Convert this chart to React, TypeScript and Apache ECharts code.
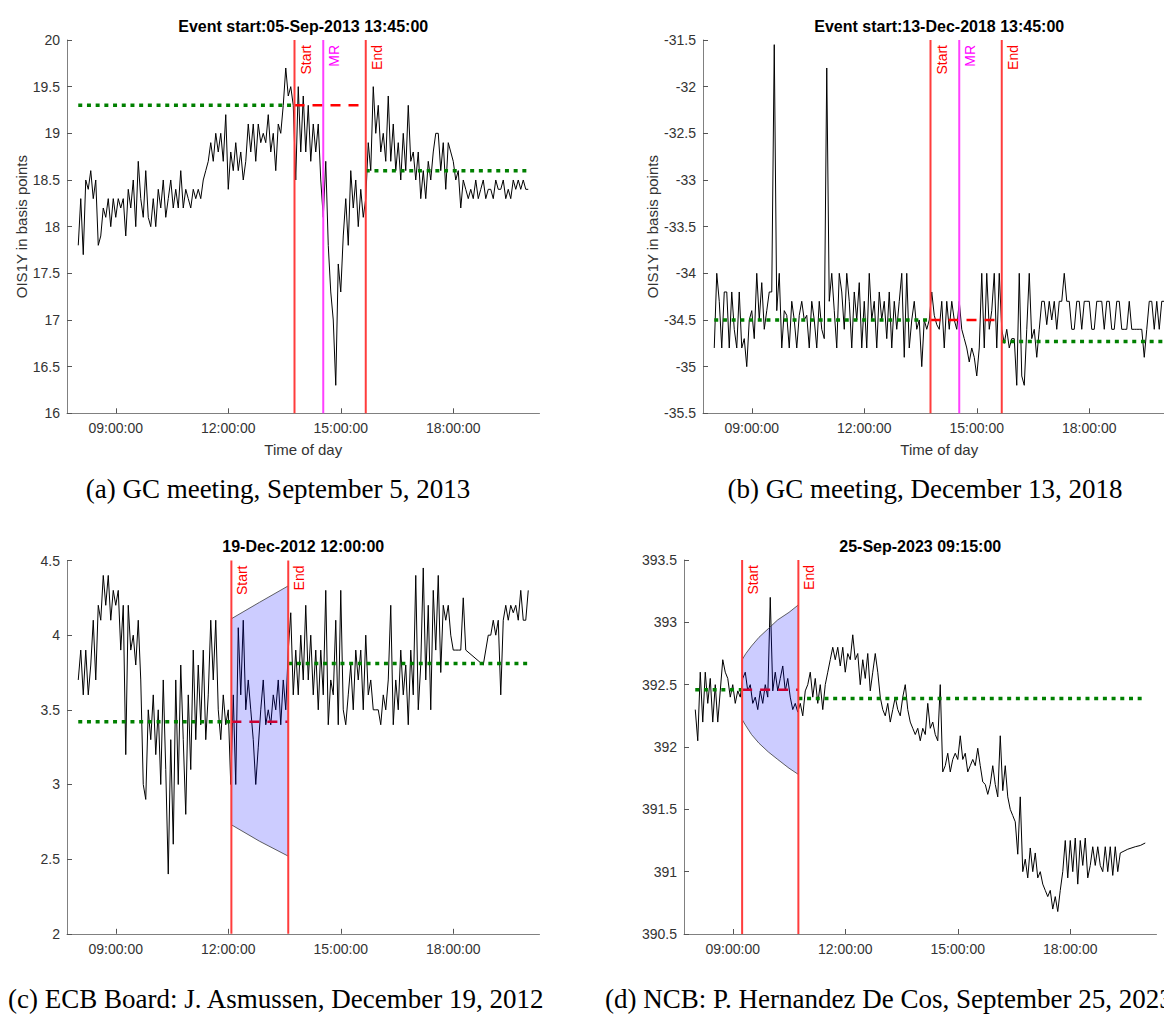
import React, { useEffect, useRef } from "react";
import * as echarts from "echarts";

// time grid: 08:00 .. 20:00, 4-minute steps (minutes since midnight)
const START_MIN = 480;
const STEP_MIN = 4;
const DATA_START = 480;
const DATA_END = 1200;
const X_MIN = 462;
const X_MAX = 1218;
const tickMinutes = [540, 720, 900, 1080];

// (a) GC meeting 05-Sep-2013
const valuesA = [
  17.8, 18.3, 17.7, 18.5, 18.4, 18.6, 18.3, 18.5, 17.8, 17.9, 18.2, 18.1, 18.3, 18.0, 18.3,
  18.1, 18.3, 18.2, 18.3, 17.9, 18.4, 18.2, 18.5, 18.0, 18.7, 18.3, 18.1, 18.6, 18.1, 18.0,
  18.3, 18.0, 18.4, 18.2, 18.5, 18.1, 18.3, 18.5, 18.2, 18.4, 18.2, 18.6, 18.2, 18.4, 18.3,
  18.2, 18.4, 18.3, 18.4, 18.3, 18.5, 18.6, 18.7, 18.9, 18.7, 19.0, 18.8, 19.0, 18.7, 19.2,
  18.4, 18.8, 18.6, 18.9, 18.6, 18.8, 18.5, 18.7, 19.1, 18.8, 19.1, 18.7, 19.1, 18.9, 19.0,
  18.9, 19.2, 18.8, 19.0, 18.6, 19.1, 19.0, 19.3, 19.7, 19.4, 19.5, 19.3, 18.5, 19.5, 18.8,
  19.4, 18.8, 19.3, 18.7, 19.1, 18.8, 19.1, 18.5, 18.1, 18.7, 17.8, 17.3, 17.0, 16.3, 17.6,
  17.3, 17.9, 18.3, 17.8, 18.6, 18.2, 18.5, 18.0, 18.4, 18.1, 18.3, 18.9, 18.6, 19.5, 19.0,
  19.3, 18.8, 19.0, 18.7, 19.4, 18.7, 19.1, 18.6, 18.9, 18.5, 19.0, 18.6, 19.3, 18.7, 18.8,
  18.5, 18.8, 18.3, 18.6, 18.3, 18.7, 18.5, 18.8, 19.0, 19.0, 18.6, 18.9, 18.4, 18.9, 18.8,
  18.7, 18.5, 18.6, 18.2, 18.5, 18.4, 18.3, 18.4, 18.3, 18.5, 18.3, 18.4, 18.5, 18.3, 18.4,
  18.4, 18.3, 18.5, 18.4, 18.4, 18.5, 18.3, 18.4, 18.3, 18.5, 18.4, 18.5, 18.4, 18.5, 18.4,
  18.4,
];

// (b) GC meeting 13-Dec-2018
const valuesB = [
  -34.8, -34.0, -34.3, -34.8, -34.2, -34.2, -34.8, -34.2, -34.6, -34.8, -34.2, -34.8, -34.7, -35.0, -34.5,
  -34.4, -34.7, -34.0, -34.5, -34.1, -34.6, -34.4, -34.2, -34.2, -31.55, -34.4, -34.0, -34.8, -34.4, -34.45,
  -34.8, -34.3, -34.5, -34.8, -34.45, -34.3, -34.5, -34.45, -34.8, -34.3, -34.5, -34.8, -34.3, -34.6, -34.7,
  -31.8, -34.3, -34.0, -34.4, -34.8, -34.0, -34.2, -34.6, -34.0, -34.3, -34.8, -34.2, -34.5, -34.1, -34.8,
  -34.3, -34.8, -34.0, -34.5, -34.3, -34.8, -34.2, -34.5, -34.3, -34.7, -34.2, -34.8, -34.3, -34.6, -34.3,
  -34.0, -34.9, -34.0, -34.8, -34.5, -34.3, -34.6, -34.5, -35.0, -34.5, -34.6, -34.5, -34.2, -34.45, -34.55,
  -34.6, -34.3, -34.8, -34.3, -34.6, -34.3, -34.5, -34.6, -34.3, -34.6, -34.7, -34.8, -34.95, -34.8, -34.9,
  -35.1, -34.8, -34.0, -34.8, -34.0, -34.6, -34.4, -34.0, -34.8, -34.0, -34.6, -34.75, -34.6, -34.8, -34.7,
  -34.7, -35.2, -34.0, -35.1, -35.2, -34.6, -34.0, -34.7, -34.6, -34.9, -34.6, -34.3, -34.3, -34.55, -34.3,
  -34.5, -34.3, -34.6, -34.3, -34.3, -34.0, -34.3, -34.3, -34.6, -34.6, -34.3, -34.3, -34.6, -34.3, -34.3,
  -34.3, -34.6, -34.6, -34.3, -34.3, -34.3, -34.6, -34.3, -34.3, -34.6, -34.6, -34.3, -34.3, -34.6, -34.6,
  -34.6, -34.3, -34.6, -34.6, -34.6, -34.6, -34.6, -34.9, -34.6, -34.3, -34.3, -34.6, -34.3, -34.6, -34.3,
  -34.3,
];

// (c) ECB Board: J. Asmussen 19-Dec-2012
const valuesC = [
  3.7, 3.9, 3.6, 3.9, 3.6, 3.8, 4.1, 3.7, 4.2, 4.1, 4.4, 4.2, 4.4, 4.1, 4.3,
  4.2, 4.3, 3.9, 4.2, 3.2, 4.2, 3.9, 4.0, 3.8, 4.1, 3.7, 3.0, 2.9, 3.5, 3.3,
  3.6, 3.2, 3.5, 3.0, 3.7, 3.1, 2.4, 3.3, 2.6, 3.7, 3.0, 3.8, 3.3, 2.8, 3.6,
  3.1, 3.9, 3.3, 3.8, 3.4, 3.9, 3.3, 3.6, 4.1, 3.7, 4.1, 3.5, 3.3, 3.6, 3.4,
  3.5, 3.0, 3.6, 3.0, 4.05, 3.6, 4.1, 3.5, 3.7, 3.5, 3.3, 3.0, 3.25, 3.5, 3.7,
  3.4, 3.5, 3.4, 3.6, 3.5, 3.7, 3.4, 3.7, 3.5, 3.9, 4.15, 3.6, 3.9, 3.6, 4.0,
  3.7, 4.2, 3.7, 4.0, 3.6, 3.9, 3.5, 3.9, 3.6, 4.3, 3.4, 3.7, 3.6, 4.1, 3.4,
  4.3, 3.5, 3.4, 3.6, 3.8, 3.5, 3.9, 3.7, 3.9, 3.5, 4.0, 3.6, 3.7, 3.5, 3.5,
  3.5, 3.4, 3.6, 3.5, 3.7, 4.2, 3.4, 3.7, 3.5, 3.9, 3.6, 3.8, 3.4, 3.9, 3.6,
  4.4, 3.5, 3.8, 4.45, 3.7, 4.2, 3.5, 4.3, 3.9, 4.4, 3.75, 4.2, 4.1, 4.2, 4.0,
  3.9, 3.9, 3.9, 3.9, 4.25, 3.9, null, null, null, null, null, null, 3.8, null, 4.0,
  4.0, 4.1, 4.0, 4.1, 3.6, 4.1, 4.2, 4.1, 4.2, 4.15, 4.2, 4.1, 4.3, 4.1, 4.1,
  4.3,
];

// (d) NCB: P. Hernandez De Cos 25-Sep-2023
const valuesD = [
  392.3, 392.05, 392.6, 392.2, 392.6, 392.35, 392.55, 392.2, 392.5, 392.2, 392.45, 392.7, 392.6, 392.55, 392.4,
  392.5, 392.35, 392.45, 392.4, 392.55, 392.6, 392.45, 392.5, 392.35, 392.4, 392.3, 392.45, 392.35, 392.5, 392.4,
  393.2, 392.45, 392.6, 392.45, 392.55, 392.65, 392.45, 392.55, 392.4, 392.3, 392.35, 392.28, 392.35, 392.25, 392.45,
  392.5, 392.6, 392.4, 392.55, 392.35, 392.5, 392.3, 392.5, 392.6, 392.7, 392.8, 392.7, 392.8, 392.65, 392.8,
  392.6, 392.75, 392.7, 392.9, 392.7, 392.75, 392.5, 392.7, 392.55, 392.75, 392.45, 392.6, 392.75, 392.6, 392.4,
  392.3, 392.25, 392.35, 392.2, 392.3, 392.4, 392.3, 392.25, 392.4, 392.5, 392.3, 392.2, 392.15, 392.1, 392.15,
  392.05, 392.15, 392.1, 392.35, 392.15, 392.2, 392.1, 392.05, 392.5, 391.8, 391.85, 391.95, 391.8, 391.9, 391.95,
  391.9, 392.09, 391.9, 391.95, 391.8, 391.85, 391.9, 391.85, 391.99, 391.85, 391.72, 391.7, 391.62, 391.7, 391.85,
  391.7, 391.6, 392.09, 391.65, 391.85, 391.6, 391.5, 391.45, 391.4, 391.14, 391.6, 391.0, 391.1, 390.95, 391.19,
  391.0, 391.15, 390.95, 391.0, 390.9, 390.85, 390.8, 390.85, 390.7, 390.8, 390.68, 390.85, 391.0, 391.25, 390.95,
  391.25, 391.0, 391.27, 390.9, 391.25, 391.05, 391.27, 390.95, 391.05, 391.2, 391.05, 391.2, 391.05, 391.0, 391.2,
  391.0, 391.2, 390.97, 391.2, 391.0, 391.15, null, null, 391.18, null, null, 391.2, null, 391.21, null,
  391.23,
];

// event times (minutes since midnight)
const eventsA = { start: 826, mr: 872, end: 940 };
const eventsB = { start: 826, mr: 872, end: 940 };
const eventsC = { start: 725, end: 816 };
const eventsD = { start: 555, end: 645 };

// mean levels: [before event, after event]
const levelsA = [19.3, 18.6];
const levelsB = [-34.5, -34.73];
const levelsC = [3.42, 3.81];
const levelsD = [392.46, 392.39];

// confidence bands
const bandCTime = [725, 770, 816];
const bandCUpper = [4.11, 4.22, 4.33];
const bandCLower = [2.73, 2.62, 2.52];
const bandDTime = [555, 561, 570, 582, 597, 612, 630, 645];
const bandDUpper = [392.7, 392.75, 392.81, 392.88, 392.95, 393.02, 393.08, 393.14];
const bandDLower = [392.22, 392.17, 392.1, 392.03, 391.96, 391.9, 391.83, 391.78];

const panelTitles = [
  "Event start:05-Sep-2013 13:45:00",
  "Event start:13-Dec-2018 13:45:00",
  "19-Dec-2012 12:00:00",
  "25-Sep-2023 09:15:00",
];
const captions = [
  "(a) GC meeting, September 5, 2013",
  "(b) GC meeting, December 13, 2018",
  "(c) ECB Board: J. Asmussen, December 19, 2012",
  "(d) NCB: P. Hernandez De Cos, September 25, 2023",
];

const SANS = "Liberation Sans";
const SERIF = "Liberation Serif";
const RED_LINE = "#ff3c3c";
const MAG_LINE = "#ff40ff";

const pad = (n: number) => String(n).padStart(2, "0");
const fmtTime = (v: number) => `${pad(Math.floor(v / 60))}:${pad(Math.round(v % 60))}:00`;

type Panel = {
  grid: any;
  yMin: number;
  yMax: number;
  values: (number | null)[];
  ev: { start: number; mr?: number; end: number };
  levels: number[];
  band: null | { t: number[]; u: number[]; l: number[] };
  names: boolean;
};

const panels: Panel[] = [
  { grid: { left: 67, top: 40, width: 472.5, height: 373.3 }, yMin: 16, yMax: 20, values: valuesA, ev: eventsA, levels: levelsA, band: null, names: true },
  { grid: { left: 703, top: 40, width: 472.5, height: 373.3 }, yMin: -35.5, yMax: -31.5, values: valuesB, ev: eventsB, levels: levelsB, band: null, names: true },
  { grid: { left: 67, top: 560.5, width: 472.5, height: 373.3 }, yMin: 2, yMax: 4.5, values: valuesC, ev: eventsC, levels: levelsC, band: { t: bandCTime, u: bandCUpper, l: bandCLower }, names: false },
  { grid: { left: 684, top: 560, width: 472.5, height: 374 }, yMin: 390.5, yMax: 393.5, values: valuesD, ev: eventsD, levels: levelsD, band: { t: bandDTime, u: bandDUpper, l: bandDLower }, names: false },
];

function buildOption() {
  const grids: any[] = [];
  const xAxes: any[] = [];
  const yAxes: any[] = [];
  const series: any[] = [];
  const titles: any[] = [];

  panels.forEach((p, k) => {
    grids.push({ ...p.grid, containLabel: false });
    xAxes.push({
      type: "value",
      gridIndex: k,
      min: X_MIN,
      max: X_MAX,
      axisLine: { show: true, onZero: false, lineStyle: { color: "#808080", width: 1 } },
      axisTick: { show: true, inside: true, length: 5, customValues: tickMinutes, lineStyle: { color: "#555", width: 1 } },
      axisLabel: { show: true, customValues: tickMinutes, formatter: fmtTime, color: "#333", fontSize: 14, fontFamily: SANS, margin: 8 },
      splitLine: { show: false },
      name: p.names ? "Time of day" : "",
      nameLocation: "middle",
      nameGap: 29,
      nameTextStyle: { color: "#333", fontSize: 15, fontFamily: SANS },
    });
    yAxes.push({
      type: "value",
      gridIndex: k,
      min: p.yMin,
      max: p.yMax,
      interval: 0.5,
      axisLine: { show: true, onZero: false, lineStyle: { color: "#808080", width: 1 } },
      axisTick: { show: true, inside: true, length: 5, lineStyle: { color: "#555", width: 1 } },
      axisLabel: { show: true, color: "#333", fontSize: 14, fontFamily: SANS, margin: 7 },
      splitLine: { show: false },
      name: p.names ? "OIS1Y in basis points" : "",
      nameLocation: "middle",
      nameGap: 38,
      nameTextStyle: { color: "#333", fontSize: 15, fontFamily: SANS },
    });

    const base = { xAxisIndex: k, yAxisIndex: k, silent: true, animation: false };

    // price series
    series.push({
      ...base,
      type: "line",
      data: p.values.map((v, i) => [START_MIN + i * STEP_MIN, v]),
      showSymbol: false,
      symbol: "none",
      connectNulls: true,
      lineStyle: { color: "#000", width: 1 },
      z: 2,
    });
    // pre-event mean (green dotted)
    series.push({
      ...base,
      type: "line",
      data: [[DATA_START, p.levels[0]], [p.ev.start, p.levels[0]]],
      showSymbol: false,
      symbol: "none",
      lineStyle: { color: "#008000", width: 3.5, type: [4, 4.7], cap: "butt" },
      z: 3,
    });
    // event window (red dashed)
    series.push({
      ...base,
      type: "line",
      data: [[p.ev.start, p.levels[0]], [p.ev.end, p.levels[0]]],
      showSymbol: false,
      symbol: "none",
      lineStyle: { color: "#ff0000", width: 2.5, type: [10, 8], cap: "butt" },
      z: 3,
    });
    // post-event mean (green dotted)
    series.push({
      ...base,
      type: "line",
      data: [[p.ev.end, p.levels[1]], [DATA_END, p.levels[1]]],
      showSymbol: false,
      symbol: "none",
      lineStyle: { color: "#008000", width: 3.5, type: [4, 4.7], cap: "butt" },
      z: 3,
    });
    // band
    if (p.band) {
      const b = p.band;
      series.push({
        ...base,
        type: "custom",
        data: [[b.t[0], b.u[0]]],
        z: 4,
        renderItem: (_params: any, api: any) => {
          const pts: number[][] = [];
          b.t.forEach((t, i) => pts.push(api.coord([t, b.u[i]])));
          for (let i = b.t.length - 1; i >= 0; i--) pts.push(api.coord([b.t[i], b.l[i]]));
          return {
            type: "polygon",
            shape: { points: pts },
            style: { fill: "rgba(0,0,255,0.2)", stroke: "#3a3a3a", lineWidth: 0.8 },
          };
        },
      });
    }
    // vertical event lines
    const vlines: { t: number; color: string; text: string; tcolor: string }[] = [
      { t: p.ev.start, color: RED_LINE, text: "Start", tcolor: "#ff0000" },
    ];
    if (p.ev.mr !== undefined) vlines.push({ t: p.ev.mr, color: MAG_LINE, text: "MR", tcolor: "#ff00ff" });
    vlines.push({ t: p.ev.end, color: RED_LINE, text: "End", tcolor: "#ff0000" });
    vlines.forEach((v) => {
      series.push({
        ...base,
        type: "line",
        data: [[v.t, p.yMin], [v.t, p.yMax]],
        showSymbol: false,
        symbol: "none",
        lineStyle: { color: v.color, width: 2 },
        z: 5,
      });
    });
    series.push({
      ...base,
      type: "custom",
      data: vlines.map((v) => [v.t, p.yMax]),
      z: 6,
      renderItem: (params: any, api: any) => {
        const v = vlines[params.dataIndex];
        const pt = api.coord([v.t, p.yMax]);
        return {
          type: "text",
          x: pt[0] + 4,
          y: pt[1] + 5,
          rotation: Math.PI / 2,
          style: {
            text: v.text,
            fill: v.tcolor,
            fontSize: 14,
            fontFamily: SANS,
            align: "right",
            verticalAlign: "top",
          },
        };
      },
    });

    titles.push({
      text: panelTitles[k],
      left: p.grid.left + p.grid.width / 2,
      top: p.grid.top - 22,
      textAlign: "center",
      padding: 0,
      textStyle: { fontSize: 16, fontWeight: "bold", color: "#000", fontFamily: SANS },
    });
  });

  const capPos = [
    { left: 278, top: 475, textAlign: "center" },
    { left: 925, top: 475, textAlign: "center" },
    { left: 8, top: 985, textAlign: "left" },
    { left: 605, top: 985, textAlign: "left" },
  ];
  captions.forEach((c, k) => {
    titles.push({
      text: c,
      ...capPos[k],
      padding: 0,
      textStyle: { fontSize: 27, fontWeight: "normal", color: "#000", fontFamily: SERIF },
    });
  });

  return {
    animation: false,
    backgroundColor: "#ffffff",
    textStyle: { fontFamily: SANS },
    title: titles,
    grid: grids,
    xAxis: xAxes,
    yAxis: yAxes,
    series,
  };
}

export default function App() {
  const ref = useRef<HTMLDivElement>(null);
  useEffect(() => {
    if (!ref.current) return;
    const chart = echarts.init(ref.current, undefined, { renderer: "svg" });
    chart.setOption(buildOption() as any);
    return () => chart.dispose();
  }, []);
  return (
    <div
      style={{ position: "absolute", left: 0, top: 0, width: 1164, height: 1024, overflow: "hidden", background: "#fff" }}
    >
      <div ref={ref} style={{ position: "absolute", left: 0, top: 0, width: 1260, height: 1024 }} />
    </div>
  );
}
